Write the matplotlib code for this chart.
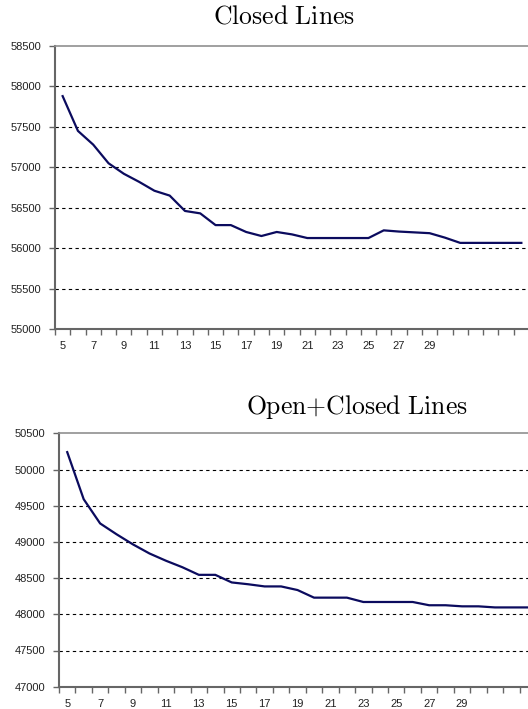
import matplotlib.pyplot as plt

plt.rcParams['mathtext.fontset'] = 'cm'

# categories on the x axis (only the odd ones up to 29 carry a label)
categories = list(range(5, 36))
tick_labels = [str(c) for c in range(5, 30, 2)]

closed_lines = [57880, 57450, 57280, 57050, 56920, 56820, 56710, 56650, 56460,
                56430, 56285, 56285, 56200, 56150, 56200, 56170, 56125, 56125,
                56125, 56125, 56125, 56220, 56205, 56195, 56185, 56130, 56065,
                56065, 56065, 56065, 56065]

open_closed_lines = [50240, 49590, 49255, 49105, 48965, 48840, 48740, 48650,
                     48545, 48545, 48440, 48415, 48385, 48385, 48335, 48230,
                     48230, 48230, 48170, 48170, 48170, 48170, 48125, 48125,
                     48110, 48110, 48095, 48095, 48095, 48095, 48095]

line_color = '#0b0b5e'


def draw_panel(ax, values, ymin, ymax):
    ax.plot(categories, values, color=line_color, lw=1.6, zorder=5)
    ax.set_xlim(categories[0] - 0.5, categories[-1] + 0.5)
    ax.set_ylim(ymin, ymax)

    # y axis: Excel style, dashed grid lines every 500
    yt = list(range(ymin, ymax + 1, 500))
    ax.set_yticks(yt)
    ax.set_yticklabels([str(v) for v in yt], fontsize=8, color='#222222',
                       family='Liberation Sans')
    ax.tick_params(axis='y', length=4, width=1, color='#666666', pad=6)
    for v in yt[1:-1]:
        ax.axhline(v, color='black', lw=0.8, ls=(0, (3, 3)), zorder=1)

    # x axis: labels in the middle of the categories, ticks between them
    ax.set_xticks([int(t) for t in tick_labels])
    ax.set_xticklabels(tick_labels, fontsize=8, color='#222222',
                       family='Liberation Sans')
    ax.tick_params(axis='x', which='major', length=0, pad=9)
    ax.set_xticks([c - 0.5 for c in categories] + [categories[-1] + 0.5],
                  minor=True)
    ax.tick_params(axis='x', which='minor', length=4, width=1,
                   color='#666666')

    ax.spines['left'].set_color('#666666')
    ax.spines['bottom'].set_color('#666666')
    ax.spines['left'].set_linewidth(1.5)
    ax.spines['bottom'].set_linewidth(1.5)
    ax.spines['top'].set_color('#909090')
    ax.spines['top'].set_linewidth(1.2)
    ax.spines['right'].set_color('#dddddd')
    ax.spines['right'].set_linewidth(1)


fig = plt.figure(figsize=(5.28, 7.09), dpi=100)

ax1 = fig.add_axes([55 / 528, 1 - 329 / 709, 474 / 528, 283 / 709])
draw_panel(ax1, closed_lines, 55000, 58500)

ax2 = fig.add_axes([59 / 528, 1 - 686.7 / 709, 510 / 528, 253.4 / 709])
draw_panel(ax2, open_closed_lines, 47000, 50500)

fig.text(284 / 528, 1 - 17 / 709, r'$\mathrm{Closed\ Lines}$',
         fontsize=18.5, ha='center', va='center')
fig.text(357 / 528, 1 - 407 / 709, r'$\mathrm{Open}{+}\mathrm{Closed\ Lines}$',
         fontsize=18.5, ha='center', va='center')

fig.savefig('out.png', dpi=100)
